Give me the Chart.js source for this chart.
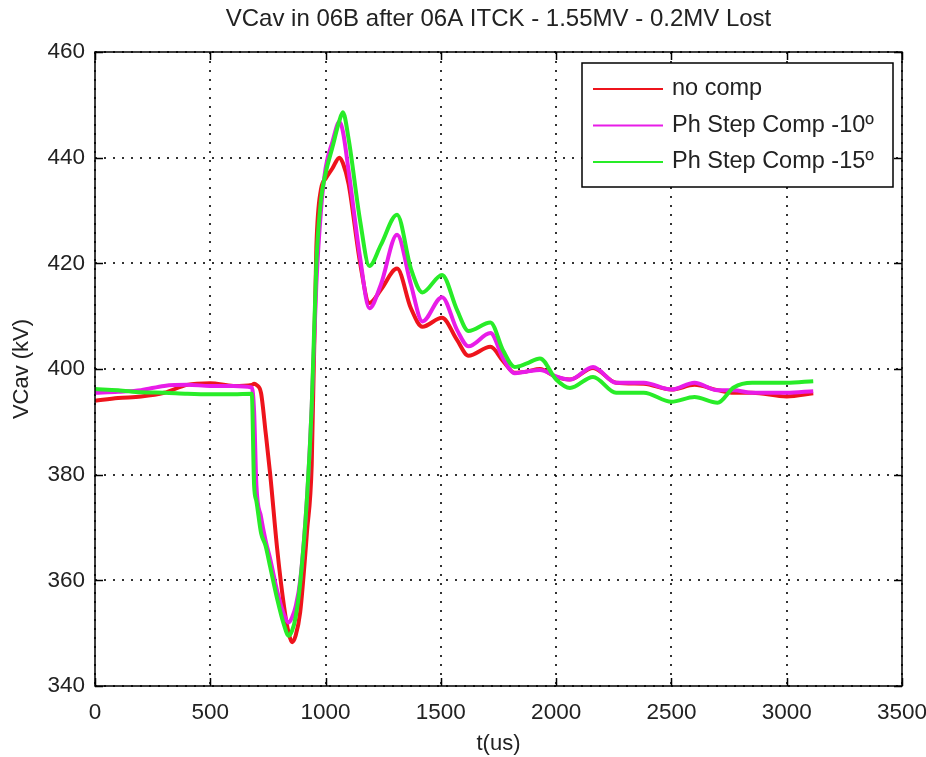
<!DOCTYPE html>
<html>
<head>
<meta charset="utf-8">
<script src="https://cdn.jsdelivr.net/npm/chart.js@4.4.0/dist/chart.umd.min.js"></script>
<style>
  html, body { margin: 0; padding: 0; background: #fff; }
  #wrap { width: 926px; height: 757px; }
</style>
</head>
<body>
<div id="wrap"><canvas id="myChart" width="926" height="757"></canvas></div>
<script>
// tiempos (us)
const tiempos = [0, 100, 200, 300, 400, 500, 600, 680, 690, 700, 720, 740, 760, 790, 820, 840, 855, 870, 890, 920, 940, 960, 980, 1000, 1030, 1060, 1075, 1100, 1150, 1190, 1240, 1310, 1370, 1420, 1505, 1570, 1620, 1715, 1770, 1820, 1870, 1930, 2000, 2060, 2160, 2260, 2380, 2500, 2600, 2700, 2770, 2850, 3000, 3115];

const noComp = [394.0, 394.5, 394.8, 395.5, 397.0, 397.3, 396.8, 397.0, 397.2, 397.0, 395.5, 388, 380, 366, 355, 350, 348.3, 349.5, 354, 369.5, 382, 423, 434, 436, 438, 440, 439, 435, 420, 412.5, 415, 419, 411.5, 408, 409.7, 405.5, 402.5, 404.2, 401.5, 399.3, 399.5, 400, 398.5, 398, 400.2, 397.4, 397.2, 396.1, 397, 396, 395.5, 395.5, 394.8, 395.4];

const comp10 = [395.5, 395.7, 396, 396.8, 397, 396.8, 396.8, 396.5, 392, 378, 372, 367.5, 364, 358, 353.5, 352, 353, 355, 360, 376, 393, 416, 430, 438, 443, 446.8, 445, 437.5, 421, 411.5, 416, 425.4, 416, 409, 413.6, 407.4, 404.3, 406.8, 402, 399.2, 399.5, 399.8, 398.6, 398, 400.4, 397.4, 397.4, 396.1, 397.4, 396, 396, 395.5, 395.5, 395.8];

const comp15 = [396.2, 396, 395.6, 395.5, 395.3, 395.2, 395.2, 395.3, 378, 375, 369, 366.5, 362.5, 356.5, 351.5, 349.5, 350.5, 353, 359.5, 376, 393, 420, 432, 437, 442, 447, 448.6, 443.5, 428, 419.5, 423.5, 429.2, 419, 414.5, 417.8, 411.2, 407.2, 408.8, 403.5, 400.4, 401, 402, 398, 396.4, 398.5, 395.5, 395.5, 393.8, 394.7, 393.6, 396.5, 397.4, 397.4, 397.7];

const nombres = ["no comp", "Ph Step Comp -10\u00BA", "Ph Step Comp -15\u00BA"];
const colores = ["rgb(238,20,28)", "rgb(232,28,232)", "rgb(40,236,40)"];
const titulo = "VCav in 06B after 06A ITCK - 1.55MV - 0.2MV Lost";

const FUENTE = "'Liberation Sans', Arial, sans-serif";

function puntos(valores) {
  return tiempos.map((t, i) => ({ x: t, y: valores[i] }));
}

// caja, ticks hacia adentro, titulo y leyenda estilo matlab
const estiloMatlab = {
  id: "estiloMatlab",
  afterDraw(chart) {
    const { ctx, chartArea: a, scales } = chart;
    ctx.save();
    ctx.strokeStyle = "#000";
    ctx.lineWidth = 1.5;
    ctx.strokeRect(a.left, a.top, a.right - a.left, a.bottom - a.top);

    const largo = 8;
    ctx.beginPath();
    scales.x.ticks.forEach((t) => {
      const px = Math.round(scales.x.getPixelForValue(t.value)) + 0.5;
      ctx.moveTo(px, a.bottom); ctx.lineTo(px, a.bottom - largo);
      ctx.moveTo(px, a.top); ctx.lineTo(px, a.top + largo);
    });
    scales.y.ticks.forEach((t) => {
      const py = Math.round(scales.y.getPixelForValue(t.value)) + 0.5;
      ctx.moveTo(a.left, py); ctx.lineTo(a.left + largo, py);
      ctx.moveTo(a.right, py); ctx.lineTo(a.right - largo, py);
    });
    ctx.stroke();

    // titulo
    ctx.fillStyle = "#222";
    ctx.font = "24px " + FUENTE;
    ctx.textAlign = "center";
    ctx.textBaseline = "middle";
    ctx.fillText(titulo, (a.left + a.right) / 2, 19);

    // leyenda
    const lx = a.right - 320, ly = a.top + 11, lw = 311, lh = 124;
    ctx.fillStyle = "#fff";
    ctx.fillRect(lx, ly, lw, lh);
    ctx.lineWidth = 1.5;
    ctx.strokeStyle = "#000";
    ctx.strokeRect(lx, ly, lw, lh);
    ctx.textAlign = "left";
    ctx.font = "23.5px " + FUENTE;
    nombres.forEach((n, i) => {
      const y = ly + 26 + i * 36.5;
      ctx.strokeStyle = colores[i];
      ctx.lineWidth = 2;
      ctx.beginPath();
      ctx.moveTo(lx + 11, y); ctx.lineTo(lx + 81, y);
      ctx.stroke();
      ctx.fillStyle = "#222";
      ctx.fillText(n, lx + 90, y);
    });
    ctx.restore();
  },
};

const ctx = document.getElementById("myChart");
new Chart(ctx, {
  type: "line",
  data: {
    datasets: [
      { label: nombres[0], data: puntos(noComp), borderColor: colores[0], order: 3 },
      { label: nombres[1], data: puntos(comp10), borderColor: colores[1], order: 2 },
      { label: nombres[2], data: puntos(comp15), borderColor: colores[2], order: 1 },
    ],
  },
  options: {
    responsive: false,
    animation: false,
    layout: { padding: { left: 0, right: 24, top: 52, bottom: 0 } },
    elements: {
      line: { borderWidth: 4, cubicInterpolationMode: "monotone" },
      point: { radius: 0 },
    },
    plugins: {
      legend: { display: false },
      tooltip: { enabled: false },
    },
    scales: {
      x: {
        type: "linear",
        min: 0,
        max: 3500,
        afterFit: (s) => { s.height = 71; s.paddingLeft = 0; s.paddingRight = 0; },
        ticks: { stepSize: 500, padding: 13, color: "#222", font: { family: FUENTE, size: 22.5 }, callback: (v) => String(v) },
        grid: { color: "rgba(0,0,0,0.8)", lineWidth: 2, drawTicks: false },
        border: { display: false, dash: [2, 7] },
        title: { display: true, text: "t(us)", color: "#222", font: { family: FUENTE, size: 22 }, padding: { top: 0, bottom: 0 } },
      },
      y: {
        min: 340,
        max: 460,
        afterFit: (s) => { s.width = 95; s.paddingTop = 0; s.paddingBottom = 0; },
        ticks: { stepSize: 20, padding: 10, color: "#222", font: { family: FUENTE, size: 22.5 } },
        grid: { color: "rgba(0,0,0,0.8)", lineWidth: 2, drawTicks: false },
        border: { display: false, dash: [2, 7] },
        title: { display: true, text: "VCav (kV)", color: "#222", font: { family: FUENTE, size: 22 }, padding: { top: 9, bottom: 0 } },
      },
    },
  },
  plugins: [estiloMatlab],
});
</script>
</body>
</html>
